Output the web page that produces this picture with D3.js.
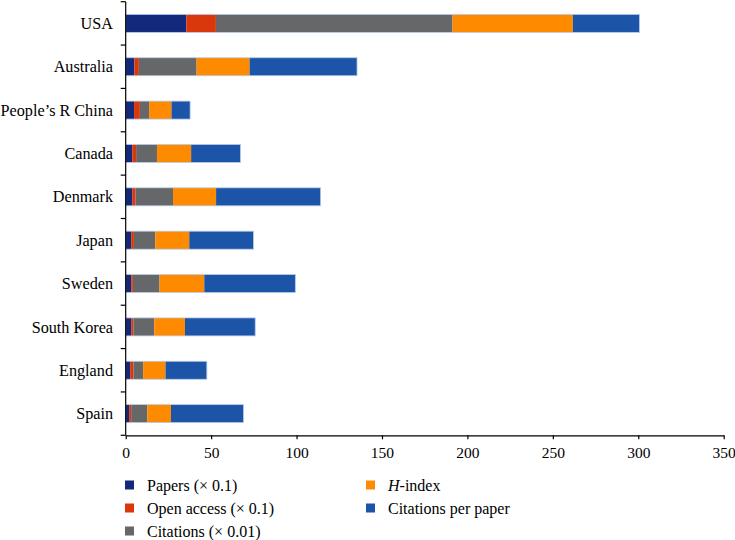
<!DOCTYPE html>
<html>
<head>
<meta charset="utf-8">
<script src="https://cdn.jsdelivr.net/npm/d3@7"></script>
<style>
  body { margin: 0; background: #fff; }
  text { font-family: 'Liberation Serif', 'Times New Roman', serif; }
</style>
</head>
<body>
<svg id="chart" width="735" height="540"></svg>
<script>
const countries = ['USA', 'Australia', 'People’s R China', 'Canada', 'Denmark', 'Japan', 'Sweden', 'South Korea', 'England', 'Spain'];
const papers = [35.5, 5.1, 4.9, 3.8, 3.8, 3.2, 3.2, 3.2, 2.6, 2.0];
const openAccess = [17.3, 2.6, 3.4, 2.3, 1.9, 1.6, 1.0, 1.3, 1.9, 1.2];
const citations = [138.5, 33.8, 5.4, 12.2, 22.0, 12.5, 15.6, 12.2, 5.7, 9.4];
const hIndex = [70.4, 31.0, 13.1, 20.0, 25.2, 19.9, 26.2, 18.0, 13.1, 13.9];
const citationsPerPaper = [39.0, 62.9, 10.9, 28.9, 61.2, 37.6, 53.3, 41.1, 24.2, 42.5];
const xTicks = [0, 50, 100, 150, 200, 250, 300, 350];

const series = [
  { key: 'papers', label: 'Papers (× 0.1)', values: papers, color: '#13297b' },
  { key: 'oa', label: 'Open access (× 0.1)', values: openAccess, color: '#da380b' },
  { key: 'cit', label: 'Citations (× 0.01)', values: citations, color: '#666769' },
  { key: 'h', label: '-index', italic: 'H', values: hIndex, color: '#fe8a00' },
  { key: 'cpp', label: 'Citations per paper', values: citationsPerPaper, color: '#1c55a8' }
];

const svg = d3.select('#chart');

const x = d3.scaleLinear().domain([0, 350]).range([125.7, 723.7]);
const y = d3.scaleBand().domain(countries).range([1.7, 435.3]).paddingInner(0.585).paddingOuter(0.2925);

// stacked rows
const rows = countries.map((c, i) => {
  const row = { country: c };
  series.forEach(s => { row[s.key] = s.values[i]; });
  return row;
});
const stacked = d3.stack().keys(series.map(s => s.key))(rows);

const gBars = svg.append('g');
stacked.forEach((layer, li) => {
  gBars.append('g')
    .attr('fill', series[li].color)
    .selectAll('rect')
    .data(layer)
    .enter()
    .append('rect')
    .attr('x', d => x(d[0]))
    .attr('width', d => x(d[1]) - x(d[0]))
    .attr('y', d => y(d.data.country))
    .attr('height', y.bandwidth());
});

// light outline round each bar
gBars.append('g')
  .selectAll('rect')
  .data(stacked[stacked.length - 1])
  .enter()
  .append('rect')
  .attr('x', x(0))
  .attr('width', d => x(d[1]) - x(0))
  .attr('y', d => y(d.data.country))
  .attr('height', y.bandwidth())
  .attr('fill', 'none')
  .attr('stroke', '#b9cbe9')
  .attr('stroke-width', 0.8);

// x axis
const xAxis = svg.append('g')
  .attr('transform', `translate(0, ${y.range()[1]})`)
  .call(d3.axisBottom(x).tickValues(xTicks).tickSize(4).tickPadding(8).tickSizeOuter(0));
xAxis.selectAll('text').attr('font-size', '15.5px').attr('fill', '#000').style('font-family', 'Liberation Serif, serif');
xAxis.selectAll('line, path').attr('stroke', '#000').attr('stroke-width', 1.2);

// y axis: ticks between categories, labels centred in the bands
const gY = svg.append('g');
const step = y.step();
const bounds = d3.range(countries.length + 1).map(i => y.range()[0] + i * step);
gY.append('line')
  .attr('x1', x(0)).attr('x2', x(0))
  .attr('y1', y.range()[0]).attr('y2', y.range()[1])
  .attr('stroke', '#000').attr('stroke-width', 1.2);
gY.selectAll('line.tick')
  .data(bounds)
  .enter()
  .append('line')
  .attr('class', 'tick')
  .attr('x1', x(0) - 5).attr('x2', x(0))
  .attr('y1', d => d).attr('y2', d => d)
  .attr('stroke', '#000').attr('stroke-width', 1.2);
gY.selectAll('text')
  .data(countries)
  .enter()
  .append('text')
  .attr('x', 113)
  .attr('y', d => y(d) + y.bandwidth() / 2)
  .attr('dy', '0.35em')
  .attr('text-anchor', 'end')
  .attr('font-size', '16.2px')
  .text(d => d);

// legend
const legendPos = [[125, 485], [125, 508], [125, 531], [366, 485], [366, 508]];
const gLegend = svg.append('g');
series.forEach((s, i) => {
  const [lx, ly] = legendPos[i];
  gLegend.append('rect')
    .attr('x', lx).attr('y', ly - 4.5)
    .attr('width', 9).attr('height', 9)
    .attr('fill', s.color);
  const t = gLegend.append('text')
    .attr('x', lx + 22)
    .attr('y', ly)
    .attr('dy', '0.35em')
    .attr('font-size', '16px');
  if (s.italic) {
    t.append('tspan').attr('font-style', 'italic').text(s.italic);
  }
  t.append('tspan').text(s.label);
});
</script>
</body>
</html>
